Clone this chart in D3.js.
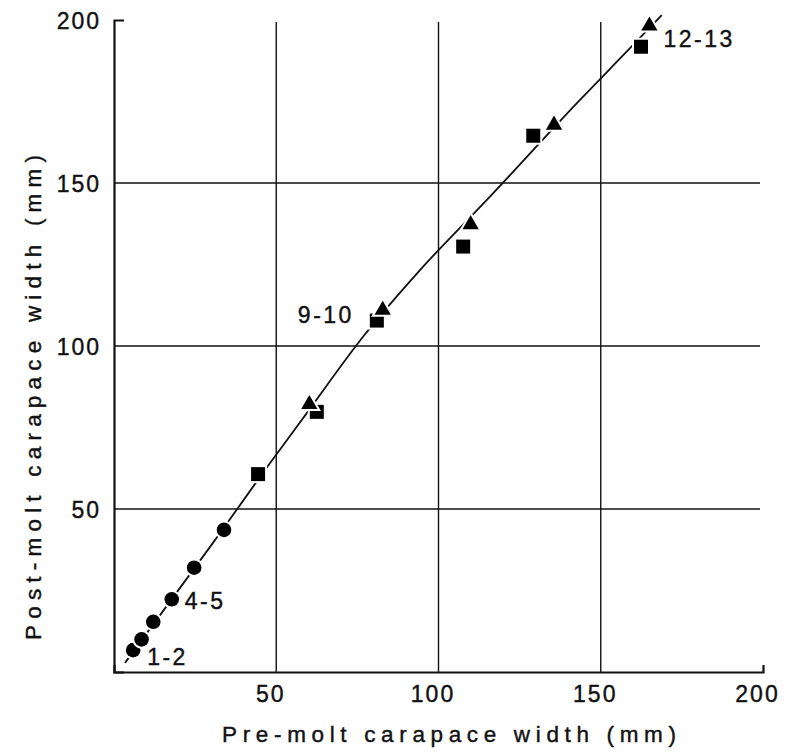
<!DOCTYPE html>
<html>
<head>
<meta charset="utf-8">
<script src="https://cdn.jsdelivr.net/npm/d3@7"></script>
<style>
  body { margin: 0; background: #fff; }
  svg { display: block; }
  .tick text { font-family: "Liberation Sans", Arial, sans-serif; font-size: 23px; letter-spacing: 2px; fill: #111; stroke: #111; stroke-width: 0.4px; }
</style>
</head>
<body>
<div id="chart"></div>
<script>
// juvenile stages (circles), pre-molt vs post-molt carapace width, mm
var circlePre = [5.9, 8.5, 12.1, 17.8, 24.7, 33.9];
var circlePost = [6.7, 10.0, 15.4, 22.3, 32.0, 43.6];
// squares
var squarePre = [44.4, 62.5, 81.0, 107.6, 129.2, 162.4];
var squarePost = [60.7, 79.8, 107.8, 130.5, 164.5, 191.8];
// triangles
var trianglePre = [60.2, 82.8, 109.9, 135.6, 165.0];
var trianglePost = [82.4, 111.3, 137.6, 168.1, 198.5];
// fitted growth line
var fitPre = [3.4, 30.5, 48.1, 59.4, 76.8, 94.3, 114.9, 143.6, 158.5, 168.8];
var fitPost = [2.8, 39.6, 64.1, 79.4, 102.9, 123.3, 144.8, 175.5, 190.8, 201.5];
// stage labels
var stageLabels = ["1-2", "4-5", "9-10", "12-13"];
var stageAt = [[5.9, 6.7], [17.8, 22.3], [81.0, 107.8], [165.0, 198.5]];
var gridValues = [50, 100, 150];
var tickValues = [50, 100, 150, 200];
var xTitle = "Pre-molt carapace width (mm)";
var yTitle = "Post-molt carapace width (mm)";

var width = 798, height = 755;
var svg = d3.select("#chart").append("svg")
  .attr("width", width).attr("height", height);
svg.append("rect").attr("width", width).attr("height", height).attr("fill", "#fff");

var x = d3.scaleLinear().domain([0, 200]).range([114, 763]);
var y = d3.scaleLinear().domain([0, 200]).range([672, 20]);

// grid
svg.append("g").selectAll("line.v").data(gridValues).enter().append("line")
  .attr("x1", function (d) { return x(d); }).attr("x2", function (d) { return x(d); })
  .attr("y1", y(0)).attr("y2", y(200) + 2)
  .attr("stroke", "#111").attr("stroke-width", 1.4);
svg.append("g").selectAll("line.h").data(gridValues).enter().append("line")
  .attr("y1", function (d) { return y(d); }).attr("y2", function (d) { return y(d); })
  .attr("x1", x(0)).attr("x2", x(200) - 3)
  .attr("stroke", "#111").attr("stroke-width", 1.4);

// axes
var xAxis = svg.append("g").attr("transform", "translate(0," + y(0) + ")")
  .call(d3.axisBottom(x).tickValues(tickValues).tickSizeInner(0).tickSizeOuter(-7).tickPadding(14));
var yAxis = svg.append("g").attr("transform", "translate(" + x(0) + ",0)")
  .call(d3.axisLeft(y).tickValues(tickValues).tickSizeInner(0).tickSizeOuter(-10).tickPadding(13));
xAxis.select(".domain").attr("stroke", "#111").attr("stroke-width", 2.2);
yAxis.select(".domain").attr("stroke", "#111").attr("stroke-width", 2.2);
xAxis.selectAll(".tick text").attr("dx", -6);
yAxis.selectAll(".tick text").attr("dy", "0.36em");

// fitted line
var fitData = fitPre.map(function (d, i) { return [d, fitPost[i]]; });
svg.append("path").datum(fitData)
  .attr("fill", "none").attr("stroke", "#111").attr("stroke-width", 1.8)
  .attr("d", d3.line().x(function (d) { return x(d[0]); }).y(function (d) { return y(d[1]); })
    .curve(d3.curveMonotoneX));

// markers with white halo so the line breaks around them
var marks = svg.append("g").attr("fill", "#000").attr("stroke", "#fff").attr("stroke-width", 4)
  .attr("paint-order", "stroke");
marks.selectAll("circle").data(circlePre).enter().append("circle")
  .attr("cx", function (d) { return x(d); })
  .attr("cy", function (d, i) { return y(circlePost[i]); })
  .attr("r", 7.3);
marks.selectAll("rect").data(squarePre).enter().append("rect")
  .attr("x", function (d) { return x(d) - 7; })
  .attr("y", function (d, i) { return y(squarePost[i]) - 7; })
  .attr("width", 14).attr("height", 14);
var tri = d3.symbol().type(d3.symbolTriangle).size(115);
marks.selectAll("path").data(trianglePre).enter().append("path")
  .attr("d", tri)
  .attr("transform", function (d, i) { return "translate(" + x(d) + "," + (y(trianglePost[i]) + 1) + ")"; });

// stage labels
var labelDx = [14, 13, -79, 14];
var labelDy = [15, 10, 2, 22];
svg.append("g").selectAll("text").data(stageLabels).enter().append("text")
  .attr("x", function (d, i) { return x(stageAt[i][0]) + labelDx[i]; })
  .attr("y", function (d, i) { return y(stageAt[i][1]) + labelDy[i]; })
  .attr("font-family", "Liberation Sans, Arial, sans-serif")
  .attr("font-size", "23px").attr("letter-spacing", "2.5px")
  .attr("fill", "#111").attr("stroke", "#111").attr("stroke-width", 0.4)
  .text(function (d) { return d; });

// axis titles
svg.append("text")
  .attr("x", 222).attr("y", 742)
  .attr("textLength", 454).attr("lengthAdjust", "spacing")
  .attr("font-family", "Liberation Sans, Arial, sans-serif")
  .attr("font-size", "22.5px").attr("fill", "#111").attr("stroke", "#111").attr("stroke-width", 0.4)
  .text(xTitle);
svg.append("text")
  .attr("transform", "translate(41,640) rotate(-90)")
  .attr("textLength", 485).attr("lengthAdjust", "spacing")
  .attr("font-family", "Liberation Sans, Arial, sans-serif")
  .attr("font-size", "22.5px").attr("fill", "#111").attr("stroke", "#111").attr("stroke-width", 0.4)
  .text(yTitle);
</script>
</body>
</html>
